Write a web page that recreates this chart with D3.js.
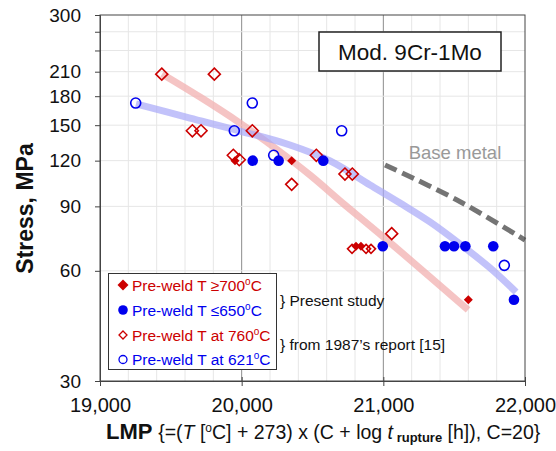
<!DOCTYPE html>
<html><head><meta charset="utf-8">
<script src="https://cdn.jsdelivr.net/npm/d3@7"></script>
<style>body{margin:0;background:#fff}svg{display:block}text{font-family:Arial,"Liberation Sans",sans-serif}</style>
</head><body>
<svg id="c" width="556" height="451"></svg>
<script>
// ---- data ----
const filledRedLMP = [19953, 20353, 20807, 20842, 21600];
const filledRedStress = [120, 120, 70, 70, 50];
const filledBlueLMP = [20078, 20261, 20576, 20996, 21435, 21499, 21579, 21776, 21922];
const filledBlueStress = [120, 120, 120, 70, 70, 70, 70, 70, 50];
const openRedLMP = [19436, 19807, 19652, 19713, 20075, 19941, 19983, 20353, 20527, 20729, 20781, 21059, 20779, 20878, 20913];
const openRedStress = [206.8, 206.8, 144.8, 144.8, 144.8, 124.1, 120.7, 103.4, 124.1, 110.3, 110.3, 75.8, 68.9, 68.9, 68.9];
const openBlueLMP = [19252, 19948, 20075, 20226, 20706, 21854];
const openBlueStress = [172.4, 144.8, 172.4, 124.1, 144.8, 62.1];
const blueTrendLMP = [19254, 19635, 19988, 20341, 20624, 20906, 21118, 21329, 21541, 21753, 21937];
const blueTrendStress = [171.4, 156.9, 144.6, 132.4, 119.8, 103, 91.9, 81.6, 71, 61.1, 52.5];
const redTrendLMP = [19438, 19706, 19988, 20235, 20482, 20729, 20976, 21224, 21435, 21598];
const redTrendStress = [207, 179, 152, 129.9, 109.6, 90.8, 75.6, 62.6, 53.2, 46.9];
const baseLMP = [21012, 21520, 22000];
const baseStress = [116.8, 93.7, 72.8];
const xTicks = [19000, 20000, 21000, 22000];
const xMinor = d3.range(19200, 22000, 200);
const yTicks = [30, 60, 90, 120, 150, 180, 210, 240, 270, 300];
const yLabels = [30, 60, 90, 120, 150, 180, 210, 300];
const legendLabels = ["Pre-weld T \u2265700", "Pre-weld T \u2264650", "Pre-weld T at 760", "Pre-weld T at 621"];

// ---- layout ----
const L = 100, R = 525, T = 15, B = 381;
const RED = "#cc0000", BLUE = "#0000ee";
const svg = d3.select("#c");
const x = d3.scaleLinear().domain([19000, 22000]).range([L, R]);
const y = d3.scaleLog().domain([30, 300]).range([B, T]);

// grid
const g = svg.append("g");
g.selectAll(".vg").data(xMinor).join("line")
  .attr("x1", d => x(d)).attr("x2", d => x(d)).attr("y1", T).attr("y2", B)
  .attr("stroke", d => d % 1000 === 0 ? "#8c8c8c" : "#e6e6e6").attr("stroke-width", 1);
g.selectAll(".hg").data(yTicks.filter(d => d > 30 && d < 300)).join("line")
  .attr("x1", L).attr("x2", R).attr("y1", d => y(d)).attr("y2", d => y(d))
  .attr("stroke", "#e6e6e6").attr("stroke-width", 1);

// trend lines
const line = d3.line().x(d => x(d[0])).y(d => y(d[1])).curve(d3.curveCatmullRom);
svg.append("path").datum(redTrendLMP.map((v, i) => [v, redTrendStress[i]]))
  .attr("d", line).attr("fill", "none").attr("stroke", "#f2b0b0").attr("stroke-opacity", 0.75)
  .attr("stroke-width", 7).attr("stroke-linecap", "butt");
svg.append("path").datum(blueTrendLMP.map((v, i) => [v, blueTrendStress[i]]))
  .attr("d", line).attr("fill", "none").attr("stroke", "#a8a8f8").attr("stroke-opacity", 0.7)
  .attr("stroke-width", 7).attr("stroke-linecap", "butt");
svg.append("path").datum(baseLMP.map((v, i) => [v, baseStress[i]]))
  .attr("d", line).attr("fill", "none").attr("stroke", "#747474")
  .attr("stroke-width", 5).attr("stroke-dasharray", "13,6");
svg.append("text").attr("x", 455).attr("y", 159).attr("text-anchor", "middle")
  .attr("font-size", 18.5).attr("fill", "#999").text("Base metal");

// frame & axes
svg.append("rect").attr("x", L).attr("y", T).attr("width", R - L).attr("height", B - T)
  .attr("fill", "none").attr("stroke", "#444").attr("stroke-width", 1);
const yAxis = d3.axisLeft(y).tickValues(yTicks).tickSize(5)
  .tickFormat(d => yLabels.includes(d) ? d : "");
const ya = svg.append("g").attr("transform", `translate(${L},0)`).call(yAxis);
ya.select(".domain").attr("stroke", "#444");
ya.selectAll(".tick line").attr("stroke", "#444");
ya.selectAll("text").attr("font-size", 19).attr("fill", "#111").attr("x", -19).attr("font-family", "Arial, Liberation Sans");
const xAxis = d3.axisBottom(x).tickValues(xTicks).tickSize(5).tickSizeOuter(0)
  .tickFormat(d3.format(","));
const xa = svg.append("g").attr("transform", `translate(0,${B})`).call(xAxis);
xa.select(".domain").attr("stroke", "#444");
xa.selectAll(".tick line").attr("stroke", "#444").attr("y1", -4);
xa.selectAll("text").attr("font-size", 20).attr("fill", "#111").attr("y", 17).attr("font-family", "Arial, Liberation Sans");

// markers
function diamondPath(r) { return `M0,${-r}L${r},0L0,${r}L${-r},0Z`; }
svg.append("g").selectAll("path").data(openRedLMP.map((v, i) => [v, openRedStress[i]])).join("path")
  .attr("d", d => diamondPath(d[1] < 72 ? 4.5 : 6))
  .attr("transform", d => `translate(${x(d[0])},${y(d[1])})`)
  .attr("fill", "none").attr("stroke", RED).attr("stroke-width", 1.6);
svg.append("g").selectAll("circle").data(openBlueLMP.map((v, i) => [v, openBlueStress[i]])).join("circle")
  .attr("cx", d => x(d[0])).attr("cy", d => y(d[1])).attr("r", 5)
  .attr("fill", "none").attr("stroke", BLUE).attr("stroke-width", 1.6);
svg.append("g").selectAll("circle").data(filledBlueLMP.map((v, i) => [v, filledBlueStress[i]])).join("circle")
  .attr("cx", d => x(d[0])).attr("cy", d => y(d[1])).attr("r", 5.3).attr("fill", BLUE);
svg.append("g").selectAll("path").data(filledRedLMP.map((v, i) => [v, filledRedStress[i]])).join("path")
  .attr("d", diamondPath(4.5))
  .attr("transform", d => `translate(${x(d[0])},${y(d[1])})`).attr("fill", RED);

// title box
svg.append("rect").attr("x", 319).attr("y", 32).attr("width", 182).attr("height", 39)
  .attr("fill", "#fff").attr("stroke", "#222").attr("stroke-width", 1.5);
svg.append("text").attr("x", 410).attr("y", 60).attr("text-anchor", "middle")
  .attr("font-size", 22.5).attr("fill", "#111").text("Mod. 9Cr-1Mo");

// legend
svg.append("rect").attr("x", 108.5).attr("y", 273.5).attr("width", 168).attr("height", 96)
  .attr("fill", "#fff").attr("stroke", "#333").attr("stroke-width", 1);
const rows = [285, 310, 335, 359.5];
const colors = [RED, BLUE, RED, BLUE];
legendLabels.forEach((lab, i) => {
  const cy = rows[i], cx = 123;
  if (i === 0) svg.append("path").attr("d", diamondPath(5.5)).attr("transform", `translate(${cx},${cy})`).attr("fill", RED);
  if (i === 1) svg.append("circle").attr("cx", cx).attr("cy", cy).attr("r", 4.8).attr("fill", BLUE);
  if (i === 2) svg.append("path").attr("d", diamondPath(4)).attr("transform", `translate(${cx},${cy})`).attr("fill", "none").attr("stroke", RED).attr("stroke-width", 1.3);
  if (i === 3) svg.append("circle").attr("cx", cx).attr("cy", cy).attr("r", 4).attr("fill", "none").attr("stroke", BLUE).attr("stroke-width", 1.3);
  const t = svg.append("text").attr("x", 132).attr("y", cy + 5.5).attr("font-size", 15.5).attr("fill", colors[i]);
  t.append("tspan").text(lab);
  t.append("tspan").attr("font-size", 10).attr("dy", -6).text("o");
  t.append("tspan").attr("dy", 6).text("C");
});
svg.append("text").attr("x", 280).attr("y", 306).attr("font-size", 15.5).attr("fill", "#111").text("} Present study");
svg.append("text").attr("x", 280).attr("y", 350).attr("font-size", 15.5).attr("fill", "#111").text("} from 1987\u2019s report [15]");

// axis titles
svg.append("text").attr("transform", "translate(33,208.5) rotate(-90)").attr("text-anchor", "middle")
  .attr("font-size", 23).attr("font-weight", "bold").attr("fill", "#111").text("Stress, MPa");
const xt = svg.append("text").attr("x", 106).attr("y", 439).attr("fill", "#111");
xt.append("tspan").attr("font-size", 22).attr("font-weight", "bold").text("LMP ");
const s = 19.5;
xt.append("tspan").attr("font-size", s).text("{=(");
xt.append("tspan").attr("font-size", s).attr("font-style", "italic").text("T");
xt.append("tspan").attr("font-size", s).text(" [");
xt.append("tspan").attr("font-size", 12).attr("dy", -7).text("o");
xt.append("tspan").attr("font-size", s).attr("dy", 7).text("C] + 273) x (C + log ");
xt.append("tspan").attr("font-size", s).attr("font-style", "italic").text("t");
xt.append("tspan").attr("font-size", 13).attr("font-weight", "bold").attr("dy", 3).text(" rupture");
xt.append("tspan").attr("font-size", s).attr("dy", -3).text(" [h]), C=20}");
</script>
</body></html>
